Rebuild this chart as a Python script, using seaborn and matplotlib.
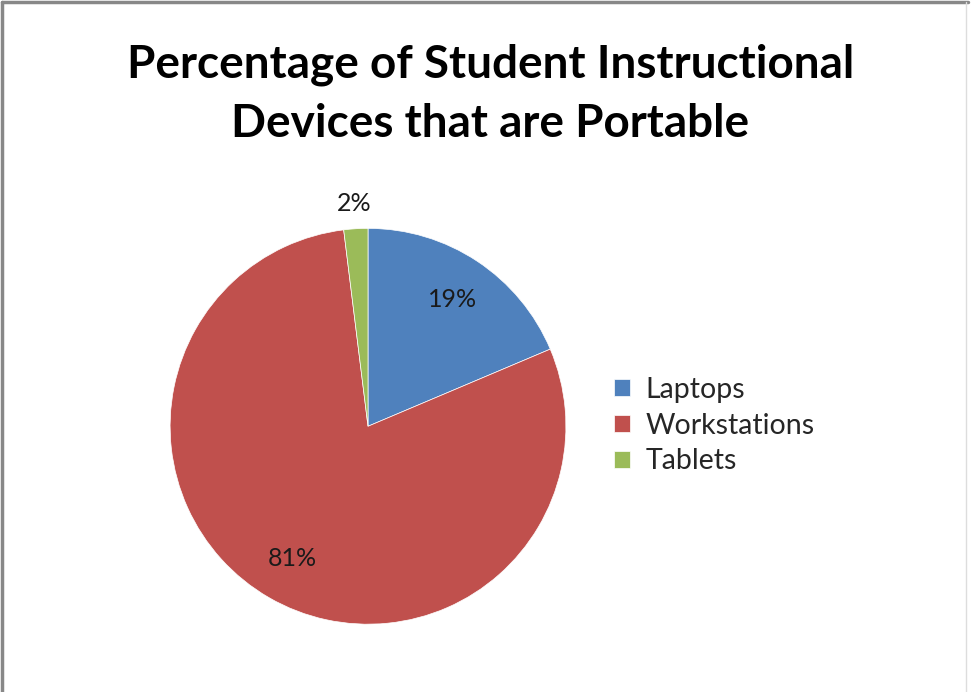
import matplotlib
matplotlib.use("Agg")
import matplotlib.pyplot as plt
import seaborn as sns
import numpy as np

categories = ["Laptops", "Workstations", "Tablets"]
values = [19, 81, 2]
title = "Percentage of Student Instructional\nDevices that are Portable"

sns.set_theme(style="white")
plt.rcParams["font.family"] = ["Lato", "DejaVu Sans"]

colors = ["#4F81BD", "#C0504D", "#9BBB59"]

fig = plt.figure(figsize=(9.71, 6.92), dpi=100)
ax = fig.add_axes([0.175, 0.098, 0.408, 0.572])

total = sum(values)
wedges, texts, autotexts = ax.pie(
    values, colors=colors, startangle=90, counterclock=False,
    autopct=lambda p: f"{p * total / 100:.0f}%", pctdistance=0.77,
    wedgeprops=dict(linewidth=0.5, edgecolor="white"),
    textprops=dict(fontsize=18, color="#1a1a1a"),
)
# move the small slice label outside
w = wedges[2]
mid = np.deg2rad((w.theta1 + w.theta2) / 2)
autotexts[2].set_position((1.13 * np.cos(mid), 1.13 * np.sin(mid)))
ax.set_xlim(-1, 1)
ax.set_ylim(-1, 1)
ax.set_aspect("equal")
ax.axis("off")

fig.text(0.505, 0.864, title, ha="center", va="center", fontsize=33,
         fontweight="bold", color="black", linespacing=1.5)

leg = fig.legend(wedges, categories, loc="center left",
                 bbox_to_anchor=(0.621, 0.385), frameon=False, fontsize=20.5,
                 handlelength=0.55, handleheight=0.55, handletextpad=0.55,
                 labelspacing=0.34, borderaxespad=0)

# chart border (top and left gray, right light)
fig.add_artist(plt.Line2D([0.002, 0.997], [0.997, 0.997], color="#888888", lw=2.5, transform=fig.transFigure))
fig.add_artist(plt.Line2D([0.002, 0.002], [0.0, 0.997], color="#888888", lw=2.5, transform=fig.transFigure))
fig.add_artist(plt.Line2D([0.995, 0.995], [0.0, 0.997], color="#dddddd", lw=1, transform=fig.transFigure))

fig.savefig("out.png", dpi=100, facecolor="white")
